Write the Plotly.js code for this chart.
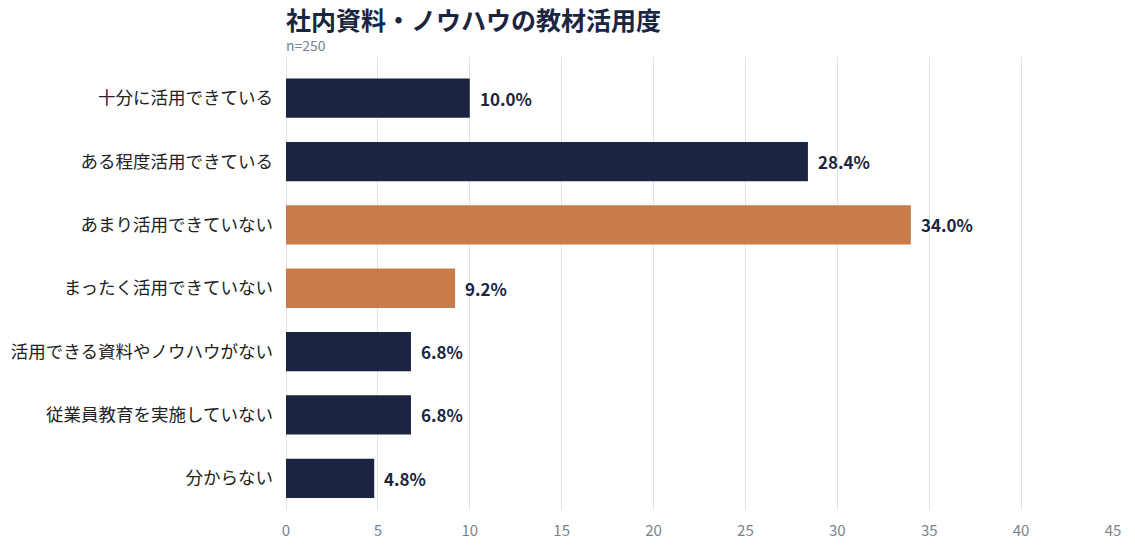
<!DOCTYPE html>
<html>
<head>
<meta charset="utf-8">
<script src="https://cdn.plot.ly/plotly-3.0.1.min.js"></script>
<style>
  html, body { margin: 0; padding: 0; background: #fff; }
  #chart { width: 1135px; height: 555px; }
</style>
</head>
<body>
<div id="chart"></div>
<script>
// 社内資料・ノウハウの教材活用度 (n=250)
const categories = [
    "十分に活用できている",
    "ある程度活用できている",
    "あまり活用できていない",
    "まったく活用できていない",
    "活用できる資料やノウハウがない",
    "従業員教育を実施していない",
    "分からない"
];
const percents = [10.0, 28.4, 34.0, 9.2, 6.8, 6.8, 4.8];
const highlight = [false, false, true, true, false, false, false];

const NAVY = "#1b2541";
const ORANGE = "#c97c4a";
const FONT = "'Noto Sans CJK JP', 'Noto Sans', sans-serif";

const trace = {
    type: "bar",
    orientation: "h",
    y: categories,
    x: percents,
    width: 0.62,
    marker: { color: highlight.map(h => h ? ORANGE : NAVY) },
    hoverinfo: "none"
};

// value labels, a little away from the bar end
const labels = percents.map((v, i) => ({
    x: v, y: categories[i],
    xref: "x", yref: "y",
    text: "<b>" + v.toFixed(1) + "%</b>",
    xanchor: "left", yanchor: "middle",
    xshift: 8,
    showarrow: false,
    font: { family: FONT, size: 17, color: NAVY }
}));

const layout = {
    width: 1135,
    height: 555,
    margin: { l: 286, r: 22, t: 57, b: 45 },
    paper_bgcolor: "#fff",
    plot_bgcolor: "#fff",
    font: { family: FONT, color: "#222" },
    showlegend: false,
    title: {
        text: "<b>社内資料・ノウハウの教材活用度</b>",
        font: { family: FONT, size: 25, color: NAVY },
        x: 0, xref: "paper", xanchor: "left",
        y: 0.962, yref: "container", yanchor: "middle"
    },
    annotations: [{
        text: "n=250",
        xref: "paper", yref: "paper",
        x: 0, y: 1, xanchor: "left", yanchor: "middle",
        xshift: -2, yshift: 12,
        showarrow: false,
        font: { family: FONT, size: 14, color: "#7a8290" }
    }].concat(labels),
    xaxis: {
        range: [0, 45],
        dtick: 5,
        showgrid: true,
        gridcolor: "#e3e3e3",
        zeroline: true,
        zerolinecolor: "#e3e3e3",
        showline: false,
        ticks: "",
        ticklabelstandoff: 10,
        tickfont: { family: FONT, size: 15, color: "#7a8290" }
    },
    yaxis: {
        type: "category",
        range: [6.5, -0.65],
        showgrid: false,
        zeroline: false,
        ticks: "",
        ticklabelstandoff: 12,
        tickfont: { family: FONT, size: 17.5, color: "#222" }
    }
};

Plotly.newPlot("chart", [trace], layout, { displayModeBar: false, staticPlot: true });
</script>
</body>
</html>
